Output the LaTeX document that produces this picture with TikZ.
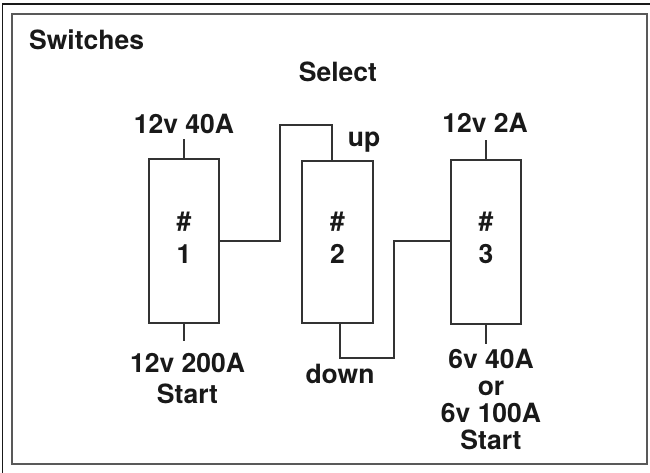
\documentclass[tikz,border=0pt]{standalone}
\usepackage{fontspec}
\setmainfont{TeX Gyre Heros}
\begin{document}
\begin{tikzpicture}[x=1pt,y=-1pt,
  wire/.style={draw=black!80,line width=1.1pt},
  swbox/.style={draw=black!80,line width=1.1pt,fill=none},
  lbl/.style={font=\bfseries\fontsize{26.5}{30.6}\selectfont,text=black!90,inner sep=0pt,align=center},
  frameline/.style={draw=black!65,line width=2pt}]
\useasboundingbox (0,0) rectangle (650,472);
% outer frame (cropped)
\draw[black!90,line width=1.5pt] (2.5,480) -- (2.5,4) -- (660,4);
% inner frame
\draw[frameline] (12,14) rectangle (647,464);
% switch boxes
\node[swbox,minimum width=70pt,minimum height=164pt,inner sep=0pt] (s1) at (184,241) {};
\node[swbox,minimum width=71pt,minimum height=162pt,inner sep=0pt] (s2) at (337.5,242) {};
\node[swbox,minimum width=70pt,minimum height=164pt,inner sep=0pt] (s3) at (486,242) {};
% numbers
\node[lbl,anchor=base] (n1a) at (184,230) {\#};
\node[lbl,anchor=base] (n1b) at (184,263) {1};
\node[lbl,anchor=base] (n2a) at (337.5,230) {\#};
\node[lbl,anchor=base] (n2b) at (337.5,263) {2};
\node[lbl,anchor=base] (n3a) at (486,230) {\#};
\node[lbl,anchor=base] (n3b) at (486,263) {3};
% labels
\node[lbl,anchor=base west] (title) at (29,49) {Switches};
\node[lbl,anchor=base] (select) at (338,81) {Select};
\node[lbl,anchor=base] (t1) at (184,133) {12v 40A};
\node[lbl,anchor=base] (t3) at (485,132) {12v 2A};
\node[lbl,anchor=base] (up) at (364,146) {up};
\node[lbl,anchor=base] (down) at (340,383) {down};
\node[lbl,anchor=base] (b1) at (187.5,403) {12v 200A\\Start};
\node[lbl,anchor=base,font=\bfseries\fontsize{26.5}{26.7}\selectfont] (b3) at (491,449) {6v 40A\\or\\6v 100A\\Start};
% stubs
\coordinate (s1t) at (184,139);
\coordinate (s1b) at (184,341);
\coordinate (s3t) at (486,140);
\coordinate (s3b) at (486,344);
\draw[wire] (s1.north) -- (s1t);
\draw[wire] (s1.south) -- (s1b);
\draw[wire] (s3.north) -- (s3t);
\draw[wire] (s3.south) -- (s3b);
% connectors
\draw[wire] (s1.east |- 0,241) -- (280,241) -- (280,125) -- (332,125) -- (332,0 |- s2.north);
\draw[wire] (340,0 |- s2.south) -- (340,358) -- (394,358) -- (394,241) -- (s3.west |- 0,241);
\end{tikzpicture}
\end{document}
